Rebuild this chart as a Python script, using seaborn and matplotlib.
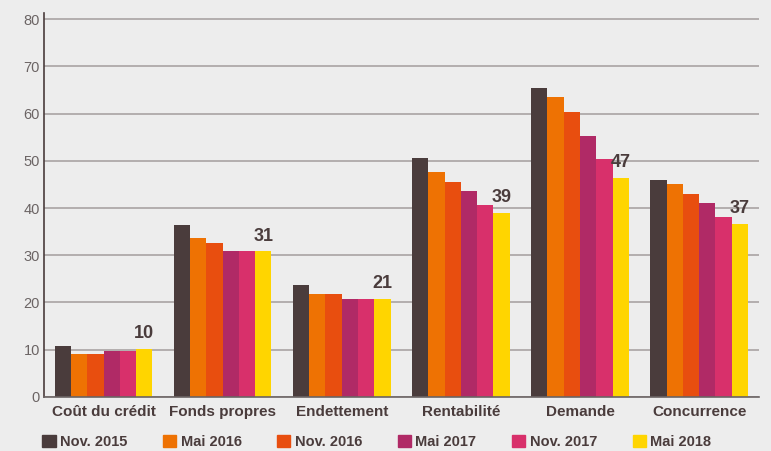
import pandas as pd
import seaborn as sns
import matplotlib.pyplot as plt

# Données
categories = ["Coût du crédit", "Fonds propres", "Endettement", "Rentabilité", "Demande", "Concurrence"]
periodes = ["Nov. 2015", "Mai 2016", "Nov. 2016", "Mai 2017", "Nov. 2017", "Mai 2018"]
nov_2015 = [10.8, 36.4, 23.8, 50.6, 65.4, 45.9]
mai_2016 = [9.1, 33.7, 21.8, 47.6, 63.5, 45.1]
nov_2016 = [9.1, 32.6, 21.8, 45.5, 60.3, 43.0]
mai_2017 = [9.8, 30.8, 20.8, 43.6, 55.2, 41.1]
nov_2017 = [9.8, 30.8, 20.8, 40.6, 50.4, 38.1]
mai_2018 = [10.1, 30.8, 20.8, 38.9, 46.4, 36.6]
labels_2018 = ["10", "31", "21", "39", "47", "37"]
couleurs = ["#4a3c3c", "#ee7203", "#e84e0f", "#b02a66", "#d8306b", "#ffd500"]

series = [nov_2015, mai_2016, nov_2016, mai_2017, nov_2017, mai_2018]
df = pd.DataFrame(
    [(c, p, v) for p, vals in zip(periodes, series) for c, v in zip(categories, vals)],
    columns=["categorie", "periode", "valeur"],
)

sns.set_theme(style="white")
plt.rcParams["font.family"] = ["Liberation Sans", "DejaVu Sans"]
bg = "#ededed"

fig = plt.figure(figsize=(7.71, 4.51), dpi=100, facecolor=bg)
ax = fig.add_axes([0.057, 0.12, 0.927, 0.851])
ax.set_facecolor(bg)

sns.barplot(data=df, x="categorie", y="valeur", hue="periode", order=categories,
            hue_order=periodes, palette=couleurs, width=0.82, saturation=1,
            linewidth=0, ax=ax)

# Étiquettes sur la dernière série
ax.bar_label(ax.containers[-1], labels=labels_2018, padding=5, fontsize=13,
             fontweight="bold", color="#4a3c3c")

ax.set_ylim(0, 81.3)
ax.set_xlim(-0.5, len(categories) - 0.5)
ax.set_yticks(range(0, 81, 10))
ax.yaxis.grid(True, color="#a9a3a3", linewidth=1.2)
ax.set_axisbelow(True)
ax.set_xlabel("")
ax.set_ylabel("")

for s in ["top", "right"]:
    ax.spines[s].set_visible(False)
ax.spines["left"].set_color("#4a3c3c")
ax.spines["left"].set_linewidth(1.2)
ax.spines["bottom"].set_color("#6b6464")
ax.spines["bottom"].set_linewidth(1.2)

ax.tick_params(axis="y", length=0, pad=3, labelsize=10.5, labelcolor="#6b6464")
ax.set_xticks([i - 0.5 for i in range(len(categories) + 1)], minor=True)
ax.tick_params(axis="x", which="minor", length=5, width=1.2, color="#6b6464")
ax.tick_params(axis="x", which="major", length=0, pad=6, labelsize=11, labelcolor="#4a3c3c")
for t in ax.get_xticklabels():
    t.set_fontweight("bold")

ax.get_legend().remove()
handles = [plt.Rectangle((0, 0), 1, 1, color=c) for c in couleurs]
fig.legend(handles, periodes, loc="lower left", bbox_to_anchor=(0.038, -0.025), ncol=6,
           frameon=False, handlelength=0.9, handleheight=0.9, handletextpad=0.3,
           columnspacing=2.45, prop={"weight": "bold", "size": 10.5}, labelcolor="#4a3c3c")

fig.savefig("out.png", dpi=100, facecolor=bg)
